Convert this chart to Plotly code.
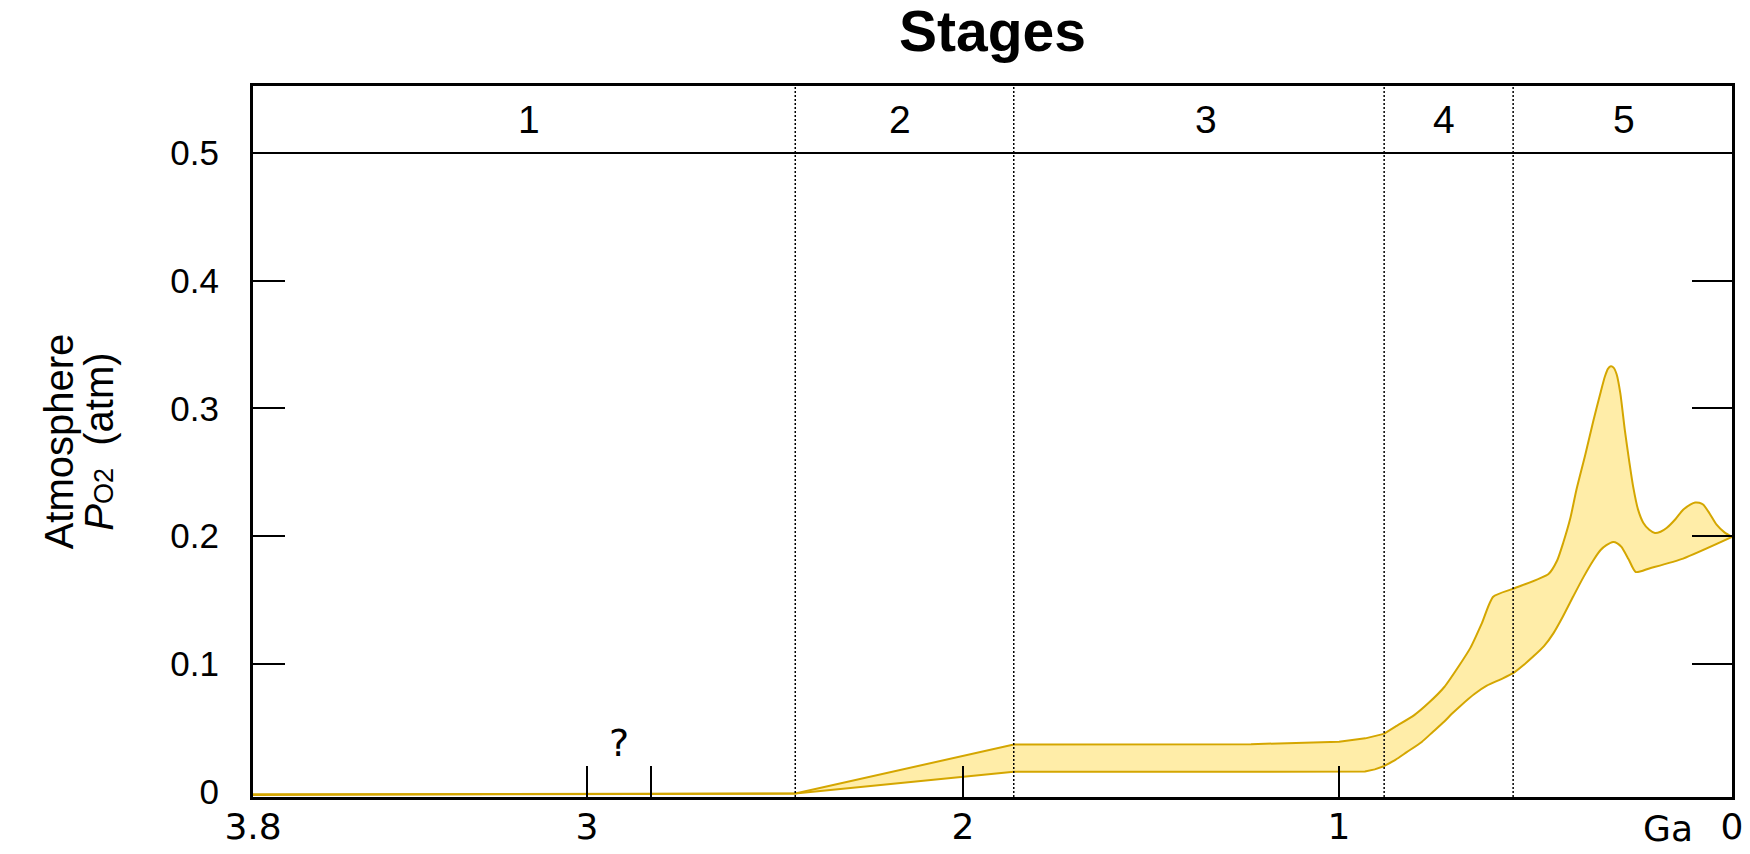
import plotly.graph_objects as go

# ---------------- data ----------------
# time in Ga before present, atmospheric pO2 in atm
upper_ga = [3.888, 3.0, 2.446, 1.865, 1.5, 1.234, 1.0, 0.93, 0.881, 0.85, 0.80, 0.76,
            0.72, 0.68, 0.65, 0.62, 0.59, 0.536, 0.443, 0.42, 0.404, 0.385, 0.369,
            0.345, 0.324, 0.305, 0.293, 0.285, 0.277, 0.27, 0.262, 0.252, 0.24, 0.228,
            0.218, 0.205, 0.191, 0.175, 0.16, 0.145, 0.129, 0.105, 0.085, 0.065,
            0.053, 0.042, 0.031, 0.015, -0.004, -0.025, -0.045]
upper_po2 = [-0.0019, -0.0017, -0.0014, 0.0370, 0.0370, 0.0372, 0.0392, 0.0418, 0.0453,
             0.051, 0.060, 0.070, 0.082, 0.099, 0.113, 0.132, 0.1526, 0.159, 0.1704,
             0.181, 0.1947, 0.214, 0.236, 0.264, 0.290, 0.312, 0.325, 0.331, 0.333,
             0.332, 0.327, 0.312, 0.283, 0.258, 0.239, 0.221, 0.2106, 0.205, 0.2025,
             0.2035, 0.2064, 0.2135, 0.2207, 0.2250, 0.2264, 0.2262, 0.2246, 0.2180,
             0.2090, 0.2030, 0.1994]

lower_ga = [3.888, 3.0, 2.446, 1.865, 1.2, 0.931, 0.905, 0.881, 0.85, 0.82, 0.78, 0.75,
            0.72, 0.70, 0.678, 0.64, 0.607, 0.57, 0.536, 0.51, 0.483, 0.455, 0.43, 0.405,
            0.377, 0.35, 0.324, 0.305, 0.289, 0.271, 0.26, 0.249, 0.23, 0.211, 0.173,
            0.085, -0.045]
lower_po2 = [-0.0025, -0.0021, -0.0014, 0.0156, 0.0156, 0.0158, 0.0175, 0.0200, 0.025,
             0.031, 0.039, 0.047, 0.055, 0.061, 0.067, 0.0765, 0.0830, 0.088, 0.093,
             0.099, 0.106, 0.114, 0.124, 0.137, 0.153, 0.168, 0.181, 0.189, 0.193,
             0.1955, 0.1945, 0.1916, 0.182, 0.172, 0.175, 0.1825, 0.1994]

stage_names = ["1", "2", "3", "4", "5"]
stage_label_ga = [3.154, 2.168, 1.354, 0.721, 0.242]   # label centres
stage_bounds = [2.446, 1.865, 0.88, 0.537]              # Ga, dotted dividers
x_range = [3.888, -0.045]                               # left edge "3.8", right edge "0"
y_range = [-0.0041, 0.5524]
stage_band_bottom = 0.5
smooth_from = 0.881     # curves are drawn smoothly from here to the present

x_tickvals = [3.888, 3.0, 2.83, 2.0, 1.0, -0.045]
x_ticktext = ["3.8", "3", "", "2", "1", "0"]
y_labelvals = [0, 0.1, 0.2, 0.3, 0.4, 0.5]
y_labeltext = ["0", "0.1", "0.2", "0.3", "0.4", "0.5"]
y_tickvals = [0.1, 0.2, 0.3, 0.4]

question_pos = (2.915, 0.038)
ga_label_x = 0.125

# ---------------- styling ----------------
FILL = "#FFEDA8"
LINE = "#D4A600"
SANS = "Liberation Sans, Arial, sans-serif"
DEJAVU = "DejaVu Sans, sans-serif"


def split(xs, ys, at):
    early = [(x, y) for x, y in zip(xs, ys) if x >= at]
    late = [(x, y) for x, y in zip(xs, ys) if x <= at]
    return ([p[0] for p in early], [p[1] for p in early]), ([p[0] for p in late], [p[1] for p in late])


(lo_a, lo_b) = split(lower_ga, lower_po2, smooth_from)
(up_a, up_b) = split(upper_ga, upper_po2, smooth_from)

fig = go.Figure()
for (lo, up, shape) in [(lo_a, up_a, "linear"), (lo_b, up_b, "spline")]:
    fig.add_trace(go.Scatter(x=lo[0], y=lo[1], mode="lines",
                             line=dict(color=LINE, width=2, shape=shape, smoothing=0.6),
                             hoverinfo="skip", showlegend=False))
    fig.add_trace(go.Scatter(x=up[0], y=up[1], mode="lines",
                             line=dict(color=LINE, width=2, shape=shape, smoothing=0.6),
                             fill="tonexty", fillcolor=FILL, hoverinfo="skip",
                             showlegend=False))
# empty traces that carry the tick-only overlay axes
fig.add_trace(go.Scatter(x=[], y=[], yaxis="y2", showlegend=False, hoverinfo="skip"))
fig.add_trace(go.Scatter(x=[], y=[], yaxis="y3", showlegend=False, hoverinfo="skip"))

band_mid = (stage_band_bottom + y_range[1]) / 2
annotations = []
for name, gx in zip(stage_names, stage_label_ga):
    annotations.append(dict(x=gx, y=band_mid, xref="x", yref="y",
                            text=name, showarrow=False,
                            font=dict(family=SANS, size=39, color="black"),
                            xanchor="center", yanchor="middle"))
annotations.append(dict(x=question_pos[0], y=question_pos[1], xref="x", yref="y", text="?",
                        showarrow=False, font=dict(family=DEJAVU, size=38, color="black"),
                        xanchor="center", yanchor="middle"))
annotations.append(dict(x=ga_label_x, y=0, xref="x", yref="paper", text="Ga",
                        showarrow=False, font=dict(family=DEJAVU, size=36, color="black"),
                        xanchor="center", yanchor="middle", yshift=-31))

shapes = [dict(type="line", xref="paper", yref="y", x0=0, x1=1,
               y0=stage_band_bottom, y1=stage_band_bottom,
               line=dict(color="black", width=2), layer="above")]
for b in stage_bounds:
    shapes.append(dict(type="line", xref="x", yref="paper", x0=b, x1=b, y0=0, y1=1,
                       line=dict(color="black", width=1.5, dash="2px,2px"), layer="above"))

ytitle = ("<span style='font-size:40px'>Atmosphere</span><br>"
          "<span style='font-size:40px'><i>P</i></span>"
          "<span style='font-size:27px'>O2</span>"
          "<span style='font-size:40px'>\u00a0\u00a0(atm)</span>")

fig.update_layout(
    width=1750, height=854,
    margin=dict(l=253, r=18, t=86, b=57, autoexpand=False),
    plot_bgcolor="white", paper_bgcolor="white",
    showlegend=False,
    title=dict(text="<b>Stages</b>", x=0.5, xref="paper", xanchor="center",
               y=1 - 31 / 854, yref="container", yanchor="middle",
               font=dict(family=SANS, size=57, color="black")),
    xaxis=dict(range=x_range, tickmode="array", tickvals=x_tickvals, ticktext=x_ticktext,
               ticks="inside", ticklen=31, tickwidth=2, tickcolor="black",
               showline=True, linewidth=3, linecolor="black", mirror=True,
               showgrid=False, zeroline=False, ticklabelstandoff=-4, automargin=False,
               tickfont=dict(family=DEJAVU, size=36, color="black")),
    yaxis=dict(range=y_range, tickmode="array", tickvals=y_labelvals, ticktext=y_labeltext,
               ticks="", showline=True, linewidth=3, linecolor="black", mirror=True,
               showgrid=False, zeroline=False, ticklabelstandoff=24, automargin=False,
               tickfont=dict(family=SANS, size=35, color="black"),
               title=dict(text=ytitle,
                          font=dict(family=SANS, size=31, color="black"), standoff=48)),
    yaxis2=dict(range=y_range, overlaying="y", side="left", tickmode="array",
                tickvals=y_tickvals, ticks="inside", ticklen=32, tickwidth=2,
                tickcolor="black", showticklabels=False, showline=False,
                showgrid=False, zeroline=False, automargin=False),
    yaxis3=dict(range=y_range, overlaying="y", side="right", tickmode="array",
                tickvals=y_tickvals, ticks="inside", ticklen=40, tickwidth=2,
                tickcolor="black", showticklabels=False, showline=False,
                showgrid=False, zeroline=False, automargin=False),
    annotations=annotations,
    shapes=shapes,
)

fig.write_html("out.html")
